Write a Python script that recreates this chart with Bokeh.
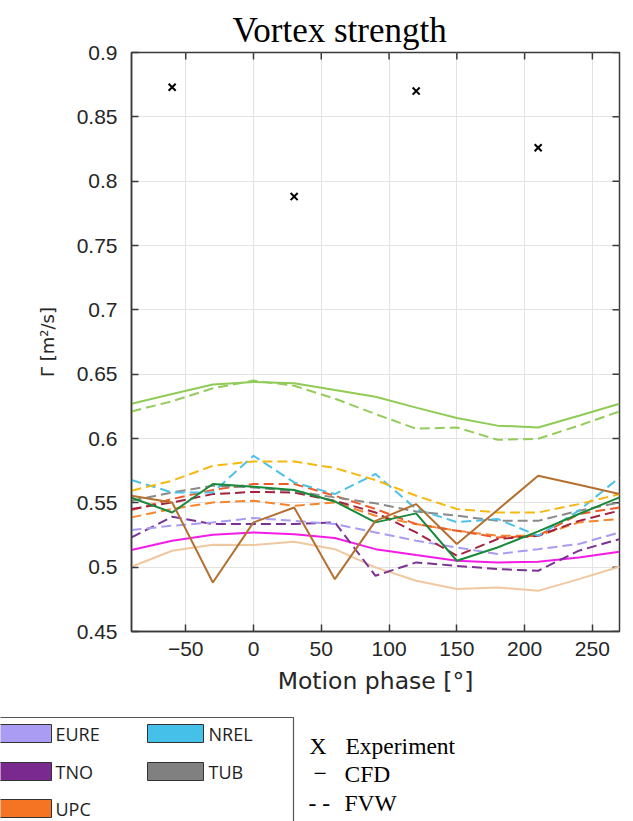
from bokeh.plotting import figure
from bokeh.models import Range1d, FixedTicker, Title
from bokeh.layouts import column
from bokeh.embed import file_html
from bokeh.resources import INLINE
from bokeh.core.properties import value

# ---------------- data ----------------
phase = [-90, -60, -30, 0, 30, 60, 90, 120, 150, 180, 210, 240, 270]

exp_phase = [-60, 30, 120, 210]
exp_gamma = [0.873, 0.788, 0.870, 0.826]

# CFD (solid)
cfd_lightgreen = [0.627, 0.6346, 0.642, 0.644, 0.643, 0.6377, 0.6325, 0.624, 0.616, 0.610, 0.6086, 0.6177, 0.627]
cfd_darkgreen = [0.554, 0.5425, 0.5646, 0.5625, 0.560, 0.5511, 0.5348, 0.5418, 0.505, 0.5153, 0.5278, 0.5413, 0.5542]
cfd_brown = [0.5555, 0.5503, 0.4881, 0.5348, 0.5464, 0.4907, 0.536, 0.549, 0.518, 0.5445, 0.571, 0.564, 0.5568]
cfd_magenta = [0.5133, 0.5205, 0.5252, 0.527, 0.5255, 0.5226, 0.514, 0.5094, 0.505, 0.5037, 0.5042, 0.5075, 0.512]
cfd_tan = [0.5003, 0.5128, 0.5174, 0.5172, 0.5198, 0.514, 0.4998, 0.4894, 0.483, 0.4842, 0.4816, 0.4907, 0.5003]

# FVW (dashed)
fvw_lightgreen = [0.621, 0.629, 0.639, 0.645, 0.641, 0.631, 0.619, 0.6076, 0.6086, 0.599, 0.5998, 0.610, 0.621]
fvw_gold = [0.5594, 0.5672, 0.5788, 0.5822, 0.5822, 0.577, 0.5677, 0.5555, 0.5452, 0.5425, 0.5425, 0.549, 0.5568]
fvw_nrel = [0.5677, 0.5581, 0.5581, 0.5866, 0.5659, 0.5568, 0.5724, 0.5452, 0.535, 0.5374, 0.5244, 0.5439, 0.5697]
fvw_tub = [0.5516, 0.5581, 0.5633, 0.562, 0.559, 0.5542, 0.5496, 0.5433, 0.540, 0.536, 0.536, 0.5439, 0.5503]
fvw_darkred = [0.5452, 0.5503, 0.5568, 0.5585, 0.558, 0.5516, 0.5425, 0.527, 0.5089, 0.5218, 0.5244, 0.536, 0.5439]
fvw_orangered = [0.5444, 0.553, 0.560, 0.5646, 0.5646, 0.5555, 0.5452, 0.5335, 0.5283, 0.5231, 0.5244, 0.5413, 0.5464]
fvw_upc = [0.5387, 0.5452, 0.5503, 0.5516, 0.5477, 0.5503, 0.540, 0.5335, 0.5283, 0.5245, 0.5244, 0.5348, 0.5374]
fvw_eure = [0.5289, 0.5322, 0.5348, 0.5382, 0.536, 0.5335, 0.527, 0.5205, 0.5153, 0.5102, 0.514, 0.518, 0.527]
fvw_tno = [0.5231, 0.5392, 0.5335, 0.5335, 0.5335, 0.5348, 0.4933, 0.5037, 0.501, 0.4985, 0.4972, 0.5128, 0.5218]

x_ticks = [-50, 0, 50, 100, 150, 200, 250]
y_ticks = [0.45, 0.5, 0.55, 0.6, 0.65, 0.7, 0.75, 0.8, 0.85, 0.9]

legend_names = ["EURE", "NREL", "TNO", "TUB", "UPC"]
legend_colors = ["#a99cf2", "#45c0e8", "#7a2a8e", "#808080", "#f57424"]
key_marks = ["X", "\u2212", "- -"]
key_names = ["Experiment", "CFD", "FVW"]

# ---------------- main figure ----------------
W = 625
H = 700
XMIN, XMAX, YMIN, YMAX = -90, 270, 0.45, 0.9
p = figure(width=W, height=H, output_backend="svg", toolbar_location=None,
           x_range=Range1d(XMIN, XMAX), y_range=Range1d(YMIN, YMAX),
           min_border_left=131, min_border_right=6, min_border_bottom=69, min_border_top=52)
p.title = Title(text="Vortex strength", text_font="Liberation Serif",
                text_font_size="35px", text_font_style="normal", text_color="#000000",
                align="left", offset=101, standoff=5)
p.background_fill_color = "white"
p.border_fill_color = "white"
p.outline_line_color = "#3a3a3a"
p.outline_line_width = 1.5

axcol = "#3a3a3a"
labcol = "#262626"
for ax in [p.xaxis[0], p.yaxis[0]]:
    ax.axis_line_color = axcol
    ax.axis_line_width = 1.5
    ax.major_tick_in = 7
    ax.major_tick_out = 0
    ax.minor_tick_line_color = None
    ax.major_tick_line_color = axcol
    ax.major_tick_line_width = 1.5
    ax.major_label_text_font = "Liberation Sans"
    ax.major_label_text_font_size = "21px"
    ax.major_label_text_color = labcol
    ax.axis_label_text_font_style = "normal"
    ax.axis_label_text_color = labcol

p.xaxis[0].ticker = FixedTicker(ticks=x_ticks)
p.yaxis[0].ticker = FixedTicker(ticks=y_ticks)
p.xaxis[0].major_label_standoff = 10
p.yaxis[0].major_label_standoff = 14
p.xaxis[0].axis_label = "Motion phase [°]"
p.xaxis[0].axis_label_text_font = "DejaVu Sans"
p.xaxis[0].axis_label_text_font_size = "23.5px"
p.xaxis[0].axis_label_standoff = 8
p.yaxis[0].axis_label = "Γ [m²/s]"
p.yaxis[0].axis_label_text_font = "DejaVu Sans"
p.yaxis[0].axis_label_text_font_size = "18px"
p.yaxis[0].axis_label_standoff = 16

# tick marks on the top and right edges of the box (MATLAB "box on")
dy = (YMAX - YMIN) * 7 / 579.0
dx = (XMAX - XMIN) * 7 / 488.0
p.segment(x0=x_ticks, y0=[YMAX] * len(x_ticks), x1=x_ticks, y1=[YMAX - dy] * len(x_ticks),
          line_color=axcol, line_width=1.5)
p.segment(x0=[XMAX] * len(y_ticks), y0=y_ticks, x1=[XMAX - dx] * len(y_ticks), y1=y_ticks,
          line_color=axcol, line_width=1.5)

p.xgrid.ticker = FixedTicker(ticks=x_ticks)
p.ygrid.ticker = FixedTicker(ticks=y_ticks)
p.grid.grid_line_color = "#e3e3e3"
p.grid.grid_line_width = 1

dash = "10 5"
lw = 2
solid = [
    (cfd_tan, "#f0c8a0"),
    (cfd_magenta, "#f21ce6"),
    (cfd_lightgreen, "#8fcb55"),
]
dashed = [
    (fvw_tno, "#7a3392"),
    (fvw_eure, "#a99cf2"),
    (fvw_upc, "#f5862e"),
    (fvw_orangered, "#ef5a28"),
    (fvw_darkred, "#a3223f"),
    (fvw_tub, "#8a8a8a"),
    (fvw_nrel, "#4fc1e6"),
    (fvw_gold, "#f6b810"),
    (fvw_lightgreen, "#93cc5c"),
]
for ys, c in solid:
    p.line(phase, ys, line_color=c, line_width=lw)
for ys, c in dashed:
    p.line(phase, ys, line_color=c, line_width=lw, line_dash=dash)
p.line(phase, cfd_darkgreen, line_color="#178a3a", line_width=lw)
p.line(phase, cfd_brown, line_color="#b3702e", line_width=lw)

p.scatter(exp_phase, exp_gamma, marker="x", size=10, line_color="black", line_width=2)

# ---------------- legend figure ----------------
LH = 121
lg = figure(width=W, height=LH, output_backend="svg", toolbar_location=None,
            x_range=Range1d(0, W), y_range=Range1d(LH, 0),
            x_axis_location=None, y_axis_location=None,
            min_border_left=0, min_border_right=0, min_border_top=0, min_border_bottom=0,
            outline_line_color=None)
lg.grid.visible = False
try:
    lg.frame_align = False
    p.frame_align = False
except Exception:
    pass

lg.quad(left=[-10], right=[293], top=[17], bottom=[150], fill_color=None,
        line_color="#555555", line_width=1.2)

pl = [-8, 147, -8, 147, -8]
pr = [51, 203, 51, 203, 51]
pt = [24, 24, 62, 62, 99]
tx = [55, 208, 55, 208, 55]
lg.quad(left=pl, right=pr, top=pt, bottom=[t + 18 for t in pt], fill_color=legend_colors,
        line_color="#333333", line_width=1)
lg.text(x=tx, y=[t + 9 for t in pt], text=legend_names, text_font=value("Open Sans"),
        text_font_size="18px", text_baseline="middle", text_color="#1e1e1e")

lg.text(x=[309, 313, 308], y=[45, 73, 102], text=key_marks, text_font=value("Liberation Serif"),
        text_font_size="23.5px", text_baseline="middle", text_color="black")
lg.text(x=[345, 344, 344], y=[45, 73, 102], text=key_names, text_font=value("Liberation Serif"),
        text_font_size="23.5px", text_baseline="middle", text_color="black")

layout = column(p, lg, spacing=0)
open("out.html", "w").write(file_html(layout, INLINE))
